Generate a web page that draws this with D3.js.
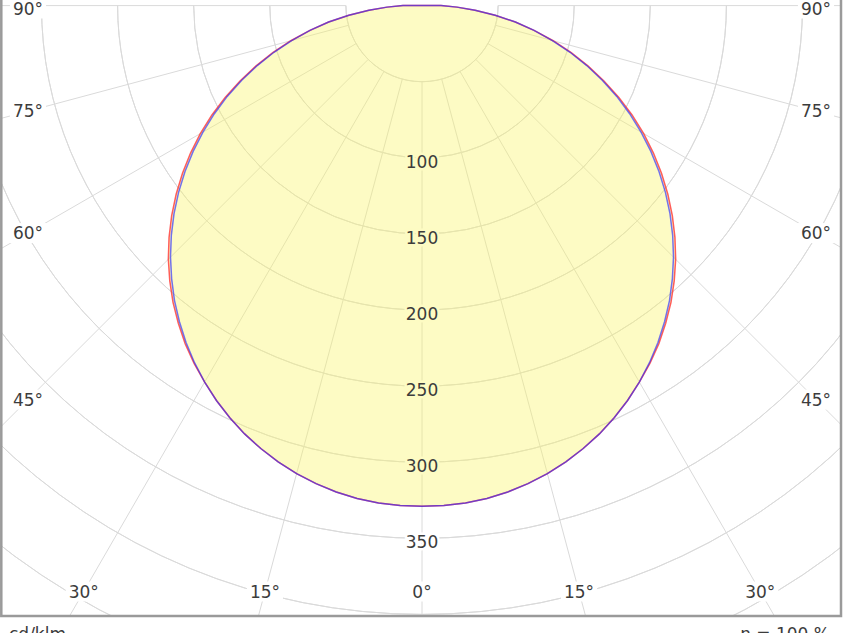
<!DOCTYPE html>
<html>
<head>
<meta charset="utf-8">
<script src="https://cdn.jsdelivr.net/npm/d3@7"></script>
<style>
  html, body { margin: 0; padding: 0; background: #fff; }
  svg { display: block; }
  text { font-family: "DejaVu Sans", Verdana, sans-serif; }
</style>
</head>
<body>
<svg id="chart" width="844" height="633"></svg>
<script>
// ---- data ----
const gammaAngles = [0, 2.5, 5, 7.5, 10, 12.5, 15, 17.5, 20, 22.5, 25, 27.5, 30, 32.5, 35, 37.5, 40, 42.5, 45,
  47.5, 50, 52.5, 55, 57.5, 60, 62.5, 65, 67.5, 70, 72.5, 75, 77.5, 80, 82.5, 85, 87.5, 90];
const planeC0C180 = [329, 328.8, 328, 326.7, 324.5, 321.7, 318.3, 314.3, 309.7, 304.6, 298.8, 292.5, 285.6, 278.7, 271.3,
  263, 254.5, 245.3, 235.7, 225.4, 214.7, 203.6, 192.1, 180.3, 168.2, 155.6, 142.7, 129.4, 116.2, 102.8, 89.2,
  75.4, 62.3, 48.5, 35, 23, 12.5];
const planeC90C270 = [329, 328.8, 328, 326.7, 324.5, 321.7, 318.3, 314.3, 309.7, 304.6, 298.8, 292.5, 285.6, 278.2, 270.3,
  261.8, 253, 243.5, 233.7, 223.4, 212.7, 201.6, 190.1, 178.3, 166.2, 153.8, 141.2, 128.2, 115.2, 102, 88.7,
  75.4, 62.3, 48.5, 35, 23, 12.5];
const radialTicks = [50, 100, 150, 200, 250, 300, 350, 400, 450];
const radialLabels = [100, 150, 200, 250, 300, 350];
const angleTicks = [-90, -75, -60, -45, -30, -15, 0, 15, 30, 45, 60, 75, 90];
const unitLabel = "cd/klm";
const efficiencyLabel = "η = 100 %";

// ---- layout ----
const cx = 422, cy = 5.6;
const frame = { x0: 1.3, y0: -10, x1: 841, y1: 616 };
const inset = { x0: 28, x1: 816, y1: 591.5 };

const r = d3.scaleLinear().domain([0, 50]).range([0, 76.1]);
const rad = d => d * Math.PI / 180;

const svg = d3.select("#chart");

svg.append("defs").append("clipPath").attr("id", "frameClip")
  .append("rect")
  .attr("x", frame.x0).attr("y", frame.y0)
  .attr("width", frame.x1 - frame.x0).attr("height", frame.y1 - frame.y0);

const grid = svg.append("g").attr("clip-path", "url(#frameClip)");
const gridColor = "#dadada";

// circles (lower half)
radialTicks.forEach(v => {
  const arc = d3.arc()
    .innerRadius(r(v)).outerRadius(r(v))
    .startAngle(rad(90)).endAngle(rad(270));
  grid.append("path")
    .attr("transform", `translate(${cx},${cy})`)
    .attr("d", arc())
    .attr("fill", "none")
    .attr("stroke", gridColor)
    .attr("stroke-width", 1);
});

// radial spokes starting at r=50
angleTicks.forEach(a => {
  const r0 = r(50), r1 = 1200;
  grid.append("line")
    .attr("x1", cx + r0 * Math.sin(rad(a))).attr("y1", cy + r0 * Math.cos(rad(a)))
    .attr("x2", cx + r1 * Math.sin(rad(a))).attr("y2", cy + r1 * Math.cos(rad(a)))
    .attr("stroke", gridColor)
    .attr("stroke-width", 1);
});

// curves: left side = 180/270 half-plane, right side = 0/90 half-plane
function curvePoints(vals) {
  const pts = [];
  for (let i = gammaAngles.length - 1; i >= 0; i--) pts.push([-gammaAngles[i], vals[i]]);
  for (let i = 1; i < gammaAngles.length; i++) pts.push([gammaAngles[i], vals[i]]);
  return pts;
}
const line = d3.line()
  .x(d => cx + r(d[1]) * Math.sin(rad(d[0])))
  .y(d => cy + r(d[1]) * Math.cos(rad(d[0])));

const ptsRed = curvePoints(planeC0C180);
const ptsBlue = curvePoints(planeC90C270);

svg.append("path")
  .attr("d", line(ptsRed) + "Z")
  .attr("fill", "rgb(250,245,100)")
  .attr("fill-opacity", 0.38)
  .attr("stroke", "none");

svg.append("path")
  .attr("d", line(ptsRed) + "Z")
  .attr("fill", "none")
  .attr("stroke", "rgb(255,40,40)")
  .attr("stroke-opacity", 0.75)
  .attr("stroke-width", 1.5);

svg.append("path")
  .attr("d", line(ptsBlue) + "Z")
  .attr("fill", "none")
  .attr("stroke", "rgb(40,40,255)")
  .attr("stroke-opacity", 0.65)
  .attr("stroke-width", 1.5);

// radial value labels
const textColor = "#3c3c3c";
radialLabels.forEach(v => {
  const inside = v <= planeC0C180[0];
  svg.append("text")
    .attr("x", cx)
    .attr("y", cy + r(v) + 4)
    .attr("text-anchor", "middle")
    .attr("dominant-baseline", "central")
    .attr("font-size", 17)
    .attr("fill", textColor)
    .attr("stroke", inside ? "rgb(253,251,195)" : "#ffffff")
    .attr("stroke-width", 5)
    .attr("paint-order", "stroke")
    .text(v);
});

// angle labels at intersection of spoke with inset rectangle
angleTicks.forEach(a => {
  const s = Math.sin(rad(Math.abs(a))), c = Math.cos(rad(Math.abs(a)));
  let x, y;
  const dx = a < 0 ? inset.x0 - cx : inset.x1 - cx;
  if (a === 0) { x = cx; y = inset.y1; }
  else {
    const tSide = Math.abs(dx) / s;
    const tBot = c > 1e-9 ? (inset.y1 - cy) / c : Infinity;
    const t = Math.min(tSide, tBot);
    x = cx + t * Math.sin(rad(a));
    y = cy + t * c;
  }
  y = Math.max(y, 8.5);
  const g = svg.append("g");
  const txt = g.append("text")
    .attr("x", x).attr("y", y)
    .attr("text-anchor", "middle")
    .attr("dominant-baseline", "central")
    .attr("font-size", 17)
    .attr("fill", textColor)
    .text(Math.abs(a) + "°");
  const bb = txt.node().getBBox();
  g.insert("rect", "text")
    .attr("x", bb.x - 3).attr("y", bb.y)
    .attr("width", bb.width + 6).attr("height", bb.height)
    .attr("fill", "#ffffff");
});

// frame
svg.append("rect")
  .attr("x", frame.x0).attr("y", frame.y0)
  .attr("width", frame.x1 - frame.x0).attr("height", frame.y1 - frame.y0)
  .attr("fill", "none")
  .attr("stroke", "#9a9a9a")
  .attr("stroke-width", 2.5);

// footer texts
svg.append("text")
  .attr("x", 9).attr("y", 640)
  .attr("font-size", 17)
  .attr("fill", textColor)
  .text(unitLabel);
svg.append("text")
  .attr("x", 830).attr("y", 640)
  .attr("text-anchor", "end")
  .attr("font-size", 17)
  .attr("fill", textColor)
  .text(efficiencyLabel);
</script>
</body>
</html>
